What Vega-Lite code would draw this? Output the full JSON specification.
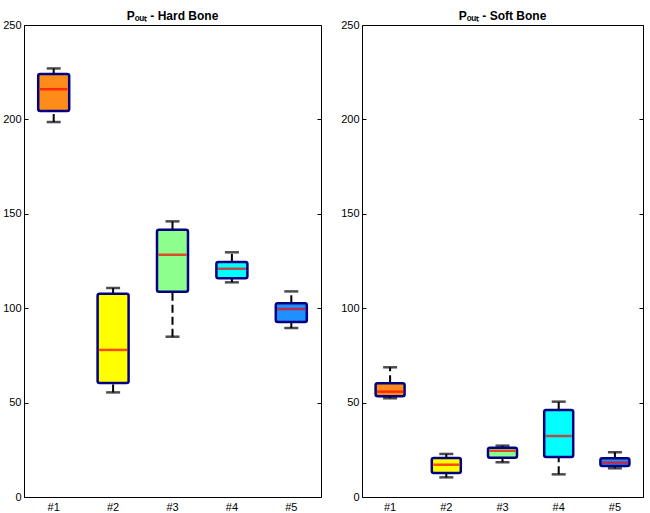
{
  "$schema": "https://vega.github.io/schema/vega-lite/v6.json",
  "padding": {"left": 2, "top": 9, "right": 0, "bottom": 0},
  "spacing": 18,
  "config": {
    "view": {"stroke": "#000000", "strokeWidth": 1},
    "font": "Liberation Sans",
    "axis": {"grid": false, "domain": false, "labelColor": "#000000", "labelFont": "Liberation Sans", "labelFontSize": 11, "tickColor": "#000000"},
    "title": {"fontSize": 12, "fontWeight": "bold", "font": "Liberation Sans", "color": "#000000", "offset": -4}
  },
  "datasets": {
    "box": [
      {"panel": "Hard", "cat": "#1", "lo": 198.6, "q1": 204.4, "med": 216, "q3": 224, "hi": 227},
      {"panel": "Hard", "cat": "#2", "lo": 55.4, "q1": 60.4, "med": 77.9, "q3": 107.7, "hi": 110.7},
      {"panel": "Hard", "cat": "#3", "lo": 84.9, "q1": 108.7, "med": 128.3, "q3": 141.6, "hi": 146},
      {"panel": "Hard", "cat": "#4", "lo": 113.7, "q1": 115.8, "med": 120.9, "q3": 124.5, "hi": 129.6},
      {"panel": "Hard", "cat": "#5", "lo": 89.5, "q1": 92.7, "med": 99.6, "q3": 102.6, "hi": 108.9},
      {"panel": "Soft", "cat": "#1", "lo": 52.3, "q1": 53.3, "med": 55.8, "q3": 60.2, "hi": 68.7},
      {"panel": "Soft", "cat": "#2", "lo": 10.4, "q1": 12.7, "med": 17.1, "q3": 20.7, "hi": 22.8},
      {"panel": "Soft", "cat": "#3", "lo": 18.4, "q1": 20.8, "med": 24.5, "q3": 26.1, "hi": 27.2},
      {"panel": "Soft", "cat": "#4", "lo": 12.0, "q1": 21.2, "med": 32.3, "q3": 46.1, "hi": 50.5},
      {"panel": "Soft", "cat": "#5", "lo": 15.2, "q1": 16.4, "med": 18.2, "q3": 20.5, "hi": 23.7}
    ]
  },
  "hconcat": [
    {
      "width": 297, "height": 472,
      "title": {"text": "Pₒᵤₜ - Hard Bone"},
      "data": {"name": "box"},
      "transform": [{"filter": "datum.panel === 'Hard'"}],
      "encoding": {
        "x": {"field": "cat", "type": "nominal", "title": null, "scale": {"paddingInner": 0, "paddingOuter": 0},
              "axis": {"ticks": false, "labelAngle": 0, "labelPadding": 4}}
      },
      "resolve": {"axis": {"y": "independent"}},
      "layer": [
        {"mark": {"type": "rule", "strokeDash": [8, 4], "strokeWidth": 2, "color": "#000000"},
         "encoding": {"y": {"field": "lo", "type": "quantitative", "scale": {"domain": [0, 250], "nice": false},
                            "axis": {"values": [0, 50, 100, 150, 200, 250], "tickSize": -4, "labelPadding": 7, "title": null}},
                      "y2": {"field": "q1"}}},
        {"mark": {"type": "rule", "strokeDash": [8, 4], "strokeWidth": 2, "color": "#000000"},
         "encoding": {"y": {"field": "q3", "type": "quantitative", "scale": {"domain": [0, 250], "nice": false},
                            "axis": {"orient": "right", "values": [0, 50, 100, 150, 200, 250], "tickSize": -4, "labels": false, "title": null}},
                      "y2": {"field": "hi"}}},
        {"mark": {"type": "tick", "color": "#000000", "size": 14, "thickness": 2.5},
         "encoding": {"y": {"field": "lo", "type": "quantitative", "scale": {"domain": [0, 250], "nice": false}, "axis": null}}},
        {"mark": {"type": "tick", "color": "#000000", "size": 14, "thickness": 2.5},
         "encoding": {"y": {"field": "hi", "type": "quantitative", "scale": {"domain": [0, 250], "nice": false}, "axis": null}}},
        {"mark": {"type": "bar", "size": 31, "stroke": "#000080", "strokeWidth": 2.5, "cornerRadius": 2, "opacity": 1},
         "encoding": {"y": {"field": "q1", "type": "quantitative", "scale": {"domain": [0, 250], "nice": false}, "axis": null},
                      "y2": {"field": "q3"},
                      "fill": {"field": "cat", "type": "nominal", "legend": null,
                               "scale": {"domain": ["#1", "#2", "#3", "#4", "#5"], "range": ["#ff8c19", "#ffff00", "#8cff8c", "#00ffff", "#1e90ff"]}}}},
        {"mark": {"type": "tick", "color": "#ff0000", "size": 28, "thickness": 2.5},
         "encoding": {"y": {"field": "med", "type": "quantitative", "scale": {"domain": [0, 250], "nice": false}, "axis": null}}}
      ]
    },
    {
      "width": 281, "height": 472,
      "title": {"text": "Pₒᵤₜ - Soft Bone"},
      "data": {"name": "box"},
      "transform": [{"filter": "datum.panel === 'Soft'"}],
      "encoding": {
        "x": {"field": "cat", "type": "nominal", "title": null, "scale": {"paddingInner": 0, "paddingOuter": 0},
              "axis": {"ticks": false, "labelAngle": 0, "labelPadding": 4}}
      },
      "resolve": {"axis": {"y": "independent"}},
      "layer": [
        {"mark": {"type": "rule", "strokeDash": [8, 4], "strokeWidth": 2, "color": "#000000"},
         "encoding": {"y": {"field": "lo", "type": "quantitative", "scale": {"domain": [0, 250], "nice": false},
                            "axis": {"values": [0, 50, 100, 150, 200, 250], "tickSize": -4, "labelPadding": 7, "title": null}},
                      "y2": {"field": "q1"}}},
        {"mark": {"type": "rule", "strokeDash": [8, 4], "strokeWidth": 2, "color": "#000000"},
         "encoding": {"y": {"field": "q3", "type": "quantitative", "scale": {"domain": [0, 250], "nice": false},
                            "axis": {"orient": "right", "values": [0, 50, 100, 150, 200, 250], "tickSize": -4, "labels": false, "title": null}},
                      "y2": {"field": "hi"}}},
        {"mark": {"type": "tick", "color": "#000000", "size": 14, "thickness": 2.5},
         "encoding": {"y": {"field": "lo", "type": "quantitative", "scale": {"domain": [0, 250], "nice": false}, "axis": null}}},
        {"mark": {"type": "tick", "color": "#000000", "size": 14, "thickness": 2.5},
         "encoding": {"y": {"field": "hi", "type": "quantitative", "scale": {"domain": [0, 250], "nice": false}, "axis": null}}},
        {"mark": {"type": "bar", "size": 29, "stroke": "#000080", "strokeWidth": 2.5, "cornerRadius": 2, "opacity": 1},
         "encoding": {"y": {"field": "q1", "type": "quantitative", "scale": {"domain": [0, 250], "nice": false}, "axis": null},
                      "y2": {"field": "q3"},
                      "fill": {"field": "cat", "type": "nominal", "legend": null,
                               "scale": {"domain": ["#1", "#2", "#3", "#4", "#5"], "range": ["#ff8c19", "#ffff00", "#8cff8c", "#00ffff", "#1e90ff"]}}}},
        {"mark": {"type": "tick", "color": "#ff0000", "size": 26, "thickness": 2.5},
         "encoding": {"y": {"field": "med", "type": "quantitative", "scale": {"domain": [0, 250], "nice": false}, "axis": null}}}
      ]
    }
  ]
}
